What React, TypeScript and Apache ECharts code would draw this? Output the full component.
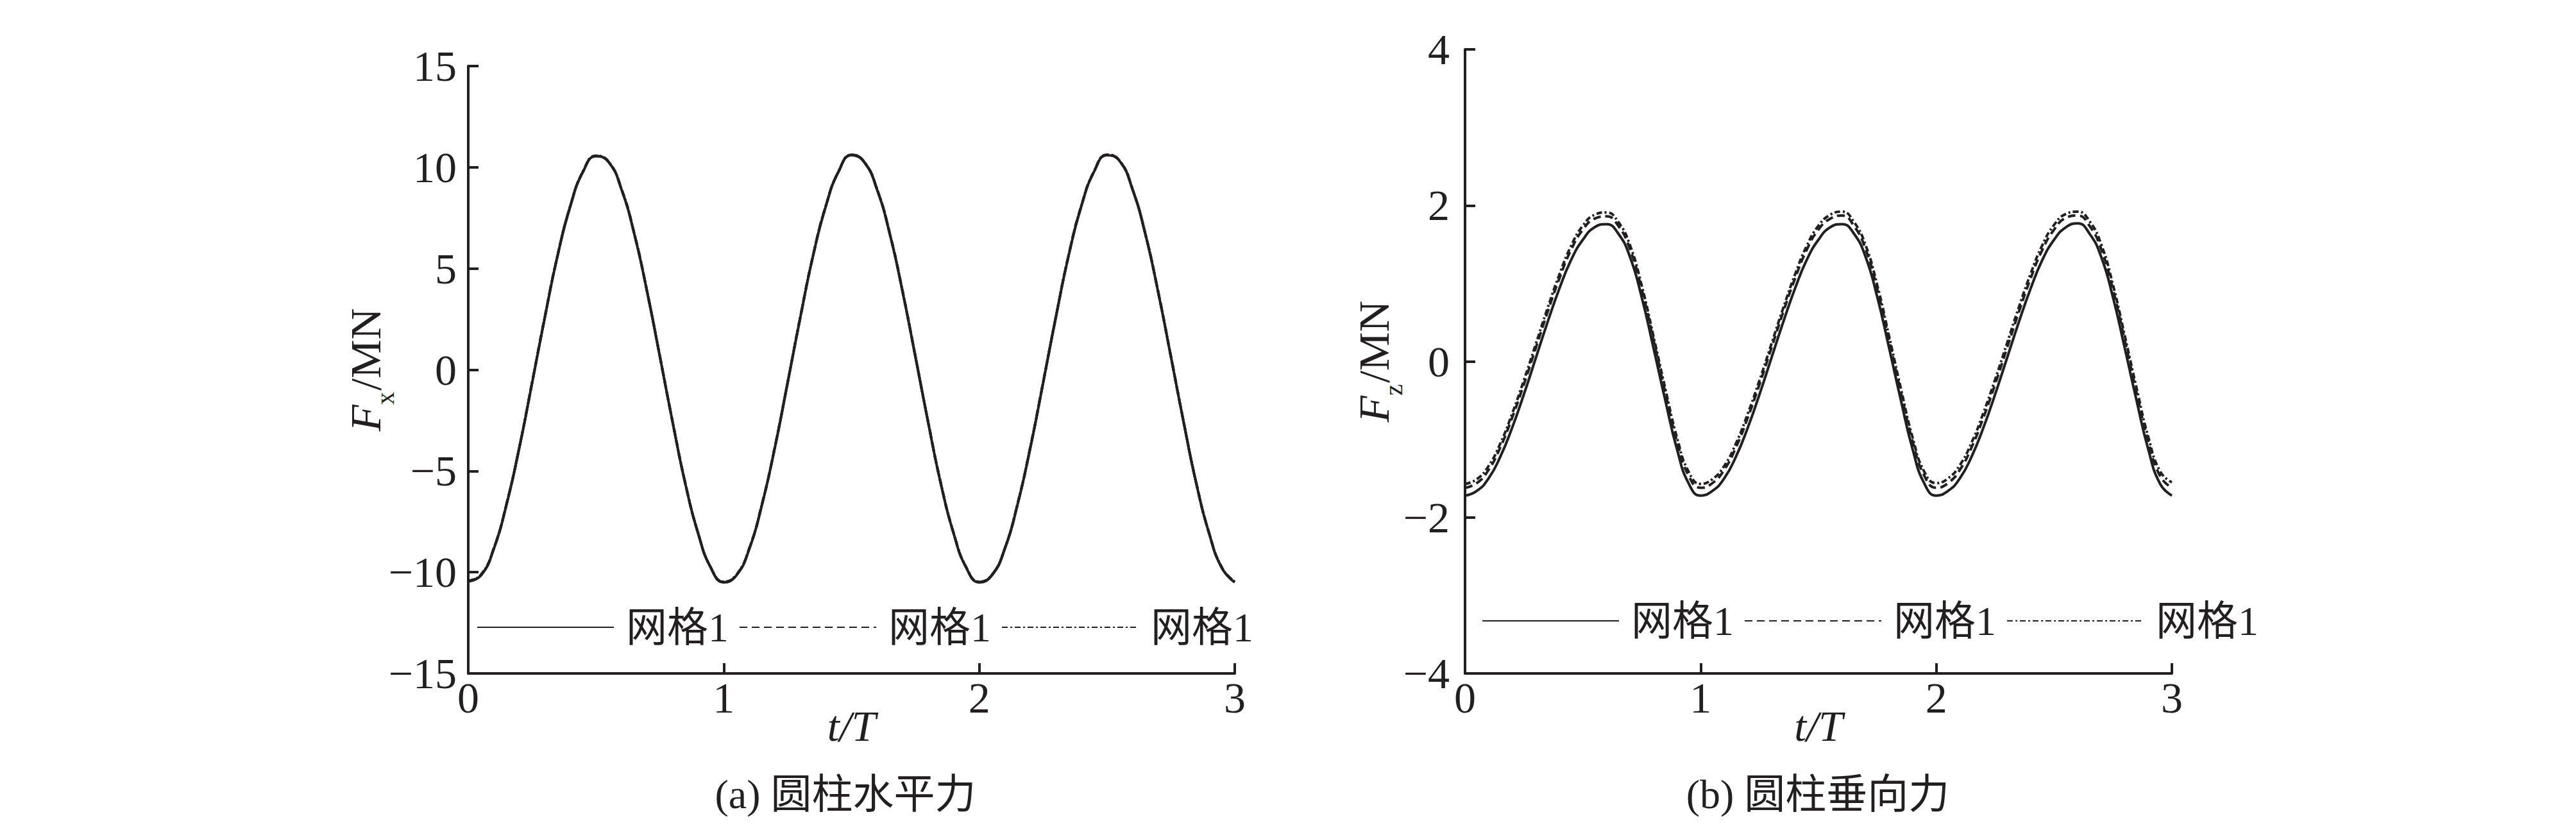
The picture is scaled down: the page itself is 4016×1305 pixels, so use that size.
import React, { useEffect, useRef } from 'react';
import * as echarts from 'echarts';

// time samples t/T
const T = [
  0, 0.05, 0.1, 0.15, 0.2, 0.25, 0.3, 0.35, 0.4, 0.45, 0.5, 0.55, 0.6, 0.65, 0.7, 0.75, 0.8, 0.85, 0.9, 0.95,
  1, 1.05, 1.1, 1.15, 1.2, 1.25, 1.3, 1.35, 1.4, 1.45, 1.5, 1.55, 1.6, 1.65, 1.7, 1.75, 1.8, 1.85, 1.9, 1.95,
  2, 2.05, 2.1, 2.15, 2.2, 2.25, 2.3, 2.35, 2.4, 2.45, 2.5, 2.55, 2.6, 2.65, 2.7, 2.75, 2.8, 2.85, 2.9, 2.95, 3,
];

// (a) horizontal force Fx / MN
const FX_1 = [
  -10.45, -10.15, -8.85, -6.65, -3.85, -0.65, 2.6, 5.65, 8.1, 9.8, 10.55, 10.25, 8.9, 6.7, 3.85, 0.65, -2.6, -5.65, -8.1, -9.8,
  -10.5, -10.15, -8.85, -6.65, -3.85, -0.65, 2.6, 5.65, 8.1, 9.8, 10.6, 10.25, 8.9, 6.7, 3.85, 0.65, -2.6, -5.65, -8.1, -9.8,
  -10.5, -10.15, -8.85, -6.65, -3.85, -0.65, 2.6, 5.65, 8.1, 9.8, 10.6, 10.3, 8.9, 6.7, 3.85, 0.65, -2.6, -5.65, -8.1, -9.8, -10.5,
];
const FX_2 = [
  -10.43, -10.13, -8.83, -6.63, -3.83, -0.63, 2.62, 5.66, 8.11, 9.81, 10.56, 10.26, 8.91, 6.71, 3.86, 0.66, -2.59, -5.64, -8.09, -9.79,
  -10.48, -10.13, -8.83, -6.63, -3.83, -0.63, 2.62, 5.66, 8.11, 9.81, 10.61, 10.26, 8.91, 6.71, 3.86, 0.66, -2.59, -5.64, -8.09, -9.79,
  -10.48, -10.13, -8.83, -6.63, -3.83, -0.63, 2.62, 5.66, 8.11, 9.81, 10.61, 10.31, 8.91, 6.71, 3.86, 0.66, -2.59, -5.64, -8.09, -9.79, -10.48,
];
const FX_3 = [
  -10.42, -10.12, -8.82, -6.62, -3.82, -0.62, 2.63, 5.67, 8.12, 9.82, 10.57, 10.27, 8.92, 6.72, 3.87, 0.67, -2.58, -5.63, -8.08, -9.78,
  -10.47, -10.12, -8.82, -6.62, -3.82, -0.62, 2.63, 5.67, 8.12, 9.82, 10.62, 10.27, 8.92, 6.72, 3.87, 0.67, -2.58, -5.63, -8.08, -9.78,
  -10.47, -10.12, -8.82, -6.62, -3.82, -0.62, 2.63, 5.67, 8.12, 9.82, 10.62, 10.32, 8.92, 6.72, 3.87, 0.67, -2.58, -5.63, -8.08, -9.78, -10.47,
];

// (b) vertical force Fz / MN
const FZ_1 = [
  -1.72, -1.66, -1.5, -1.22, -0.85, -0.42, 0.04, 0.5, 0.93, 1.3, 1.56, 1.72, 1.76, 1.64, 1.34, 0.82, 0.17, -0.5, -1.13, -1.57,
  -1.72, -1.66, -1.5, -1.22, -0.85, -0.42, 0.04, 0.5, 0.93, 1.3, 1.56, 1.72, 1.76, 1.64, 1.34, 0.82, 0.17, -0.5, -1.13, -1.57,
  -1.72, -1.66, -1.5, -1.22, -0.85, -0.42, 0.04, 0.5, 0.93, 1.3, 1.56, 1.72, 1.77, 1.64, 1.34, 0.82, 0.17, -0.5, -1.13, -1.57, -1.72,
];
const FZ_2 = [
  -1.62, -1.56, -1.39, -1.1, -0.72, -0.29, 0.17, 0.63, 1.06, 1.43, 1.69, 1.83, 1.86, 1.74, 1.44, 0.92, 0.27, -0.4, -1.03, -1.47,
  -1.62, -1.56, -1.39, -1.1, -0.72, -0.29, 0.17, 0.63, 1.06, 1.43, 1.69, 1.83, 1.87, 1.74, 1.44, 0.92, 0.27, -0.4, -1.03, -1.47,
  -1.62, -1.56, -1.39, -1.1, -0.72, -0.29, 0.17, 0.63, 1.06, 1.43, 1.69, 1.84, 1.87, 1.74, 1.44, 0.92, 0.27, -0.4, -1.03, -1.47, -1.62,
];
const FZ_3 = [
  -1.57, -1.51, -1.34, -1.05, -0.67, -0.24, 0.22, 0.68, 1.11, 1.48, 1.74, 1.88, 1.91, 1.79, 1.49, 0.97, 0.32, -0.35, -0.98, -1.42,
  -1.57, -1.51, -1.34, -1.05, -0.67, -0.24, 0.22, 0.68, 1.11, 1.48, 1.74, 1.88, 1.92, 1.79, 1.49, 0.97, 0.32, -0.35, -0.98, -1.42,
  -1.56, -1.5, -1.33, -1.04, -0.66, -0.23, 0.23, 0.69, 1.12, 1.49, 1.75, 1.89, 1.92, 1.8, 1.5, 0.98, 0.33, -0.34, -0.97, -1.41, -1.55,
];

const LEGEND_LABEL = '网格1';
const SERIES_A = ['a-网格1-1', 'a-网格1-2', 'a-网格1-3'];
const SERIES_B = ['b-网格1-1', 'b-网格1-2', 'b-网格1-3'];
const CAPTION_A = '(a) 圆柱水平力';
const CAPTION_B = '(b) 圆柱垂向力';

const INK = '#231f20';
const FONT = '"Liberation Serif", "Times New Roman", "Noto Sans CJK SC", serif';
const DASHES: any[] = ['solid', [12, 7], [9, 4, 3, 4]];

const pairs = (vals: number[]) => T.map((t, i) => [t, vals[i]]);
const minus = (v: number) => String(v).replace('-', '\u2212');

function xAxis(gridIndex: number) {
  return {
    type: 'value',
    gridIndex,
    min: 0,
    max: 3,
    interval: 1,
    name: 't/T',
    nameLocation: 'middle',
    nameGap: 48,
    nameMoveOverlap: false,
    nameTextStyle: { fontFamily: FONT, fontSize: 68, fontStyle: 'italic', color: INK, lineHeight: 68 },
    axisLine: { show: true, onZero: false, lineStyle: { color: INK, width: 4 } },
    axisTick: { show: true, inside: true, length: 16, lineStyle: { color: INK, width: 4 } },
    axisLabel: { fontFamily: FONT, fontSize: 68, color: INK, margin: 4 },
    splitLine: { show: false },
  };
}

function yAxis(gridIndex: number, min: number, max: number, interval: number, sub: string, nameGap: number, margin: number) {
  return {
    type: 'value',
    gridIndex,
    min,
    max,
    interval,
    name: `{f|F}{s|${sub}}{n|/MN}`,
    nameLocation: 'middle',
    nameRotate: 90,
    nameGap,
    nameMoveOverlap: false,
    nameTextStyle: {
      color: INK,
      rich: {
        f: { fontFamily: FONT, fontSize: 68, fontStyle: 'italic', lineHeight: 68, color: INK },
        s: { fontFamily: FONT, fontSize: 40, lineHeight: 40, padding: [60, 2, 0, 0], color: INK },
        n: { fontFamily: FONT, fontSize: 68, lineHeight: 68, color: INK },
      },
    },
    axisLine: { show: true, onZero: false, lineStyle: { color: INK, width: 4 } },
    axisTick: { show: true, inside: true, length: 16, lineStyle: { color: INK, width: 4 } },
    axisLabel: { fontFamily: FONT, fontSize: 68, color: INK, margin, formatter: (v: number) => minus(v) },
    splitLine: { show: false },
  };
}

function legend(names: string[], left: number, top: number) {
  return {
    data: names,
    left,
    top,
    orient: 'horizontal',
    padding: 0,
    itemWidth: 213,
    itemHeight: 20,
    itemGap: 16,
    selectedMode: false,
    formatter: () => LEGEND_LABEL,
    itemStyle: { opacity: 0 },
    textStyle: { fontFamily: FONT, fontSize: 64, lineHeight: 64, color: INK, padding: [0, 0, 0, 14] },
  };
}

export default function App() {
  const ref = useRef<HTMLDivElement>(null);
  useEffect(() => {
    const chart = echarts.init(ref.current!, null, { renderer: 'svg' });
    const fxData = [FX_1, FX_2, FX_3];
    const fzData = [FZ_1, FZ_2, FZ_3];
    const series: any[] = [];
    SERIES_A.forEach((name, i) => {
      series.push({
        name,
        type: 'line',
        xAxisIndex: 0,
        yAxisIndex: 0,
        data: pairs(fxData[i]),
        smooth: true,
        symbol: 'none',
        itemStyle: { color: INK },
        lineStyle: { color: INK, width: 4, type: DASHES[i] },
        z: 3 - i,
      });
    });
    SERIES_B.forEach((name, i) => {
      series.push({
        name,
        type: 'line',
        xAxisIndex: 1,
        yAxisIndex: 1,
        data: pairs(fzData[i]),
        smooth: true,
        symbol: 'none',
        itemStyle: { color: INK },
        lineStyle: { color: INK, width: 4, type: DASHES[i] },
        z: 3 - i,
      });
    });
    chart.setOption({
      animation: false,
      backgroundColor: '#ffffff',
      grid: [
        { left: 730, top: 103, width: 1195, height: 947, containLabel: false },
        { left: 2284, top: 77, width: 1102, height: 973, containLabel: false },
      ],
      xAxis: [xAxis(0), xAxis(1)],
      yAxis: [yAxis(0, -15, 15, 5, 'x', 126, 18), yAxis(1, -4, 4, 2, 'z', 108, 24)],
      legend: [legend(SERIES_A, 743, 946), legend(SERIES_B, 2310, 936)],
      series,
      graphic: [
        {
          type: 'text',
          x: 1318,
          y: 1238,
          style: { text: CAPTION_A, fontFamily: FONT, fontSize: 64, fill: INK, textAlign: 'center', textVerticalAlign: 'middle' },
        },
        {
          type: 'text',
          x: 2834,
          y: 1238,
          style: { text: CAPTION_B, fontFamily: FONT, fontSize: 64, fill: INK, textAlign: 'center', textVerticalAlign: 'middle' },
        },
      ],
    });
    return () => chart.dispose();
  }, []);
  return (
    <div
      ref={ref}
      style={{ position: 'fixed', left: 0, top: 0, width: 4016, height: 1305, background: '#fff' }}
    />
  );
}
